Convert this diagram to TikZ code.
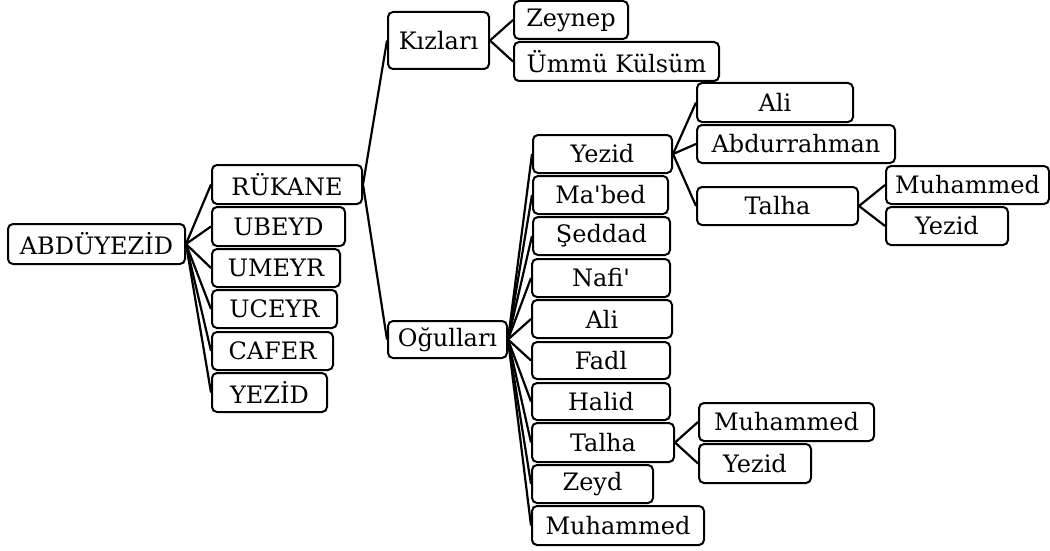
\documentclass[tikz,border=0pt]{standalone}
\usepackage{fontspec}
\newfontfamily\kutufont{DejaVu Serif}
\usepackage{tikz}

\tikzset{
  kutu/.style={draw, line width=2pt, rounded corners=5pt, inner sep=0pt,
    align=center, font=\kutufont\fontsize{24}{28}\selectfont},
  bag/.style={line width=2.2pt}
}

\begin{document}
\begin{tikzpicture}[x=1pt,y=-1pt]
    \useasboundingbox (0,0) rectangle (1050,551);

    % Root and first generation
    \node[kutu, minimum width=177pt, minimum height=40pt] (abd) at (96.5,244) {ABDÜYEZİD};
    \node[kutu, minimum width=150pt, minimum height=39pt] (rukane) at (287,184.5) {RÜKANE};
    \node[kutu, minimum width=133pt, minimum height=39pt] (ubeyd) at (278.5,226.5) {UBEYD};
    \node[kutu, minimum width=128pt, minimum height=38pt] (umeyr) at (276,268) {UMEYR};
    \node[kutu, minimum width=125pt, minimum height=38pt] (uceyr) at (274.5,309) {UCEYR};
    \node[kutu, minimum width=121pt, minimum height=38pt] (cafer) at (272.5,351) {CAFER};
    \node[kutu, minimum width=115pt, minimum height=39pt] (yezidA) at (269.5,392.5) {YEZİD};

    \draw[bag] (abd.east) -- (rukane.west);
    \draw[bag] (abd.east) -- (ubeyd.west);
    \draw[bag] (abd.east) -- (umeyr.west);
    \draw[bag] (abd.east) -- (uceyr.west);
    \draw[bag] (abd.east) -- (cafer.west);
    \draw[bag] (abd.east) -- (yezidA.west);

    % Children of Rukane
    \node[kutu, minimum width=101pt, minimum height=57pt] (kizlari) at (438.5,40.5) {Kızları};
    \node[kutu, minimum width=119pt, minimum height=37pt] (ogullari) at (447.5,339.5) {Oğulları};

    \draw[bag] (rukane.east) -- (kizlari.west);
    \draw[bag] (rukane.east) -- (ogullari.west);

    % Daughters
    \node[kutu, minimum width=114pt, minimum height=38pt] (zeynep) at (571,20) {Zeynep};
    \node[kutu, minimum width=205pt, minimum height=39pt] (ummu) at (616.5,61.5) {Ümmü Külsüm};

    \draw[bag] (kizlari.east) -- (zeynep.west);
    \draw[bag] (kizlari.east) -- (ummu.west);

    % Sons
    \node[kutu, minimum width=139pt, minimum height=38pt] (yezidB) at (602.5,154) {Yezid};
    \node[kutu, minimum width=135pt, minimum height=38pt] (mabed) at (600.5,195) {Ma'bed};
    \node[kutu, minimum width=137pt, minimum height=38pt] (seddad) at (601.5,236) {Şeddad};
    \node[kutu, minimum width=138pt, minimum height=38pt] (nafi) at (601,278) {Nafi'};
    \node[kutu, minimum width=140pt, minimum height=38pt] (ali) at (602,319) {Ali};
    \node[kutu, minimum width=138pt, minimum height=37pt] (fadl) at (601,360.5) {Fadl};
    \node[kutu, minimum width=138pt, minimum height=37pt] (halid) at (601,401.5) {Halid};
    \node[kutu, minimum width=142pt, minimum height=39pt] (talhaA) at (603,442.5) {Talha};
    \node[kutu, minimum width=121pt, minimum height=38pt] (zeyd) at (592.5,484) {Zeyd};
    \node[kutu, minimum width=172pt, minimum height=39pt] (muhA) at (618,525.5) {Muhammed};

    \draw[bag] (ogullari.east) -- (yezidB.west);
    \draw[bag] (ogullari.east) -- (mabed.west);
    \draw[bag] (ogullari.east) -- (seddad.west);
    \draw[bag] (ogullari.east) -- (nafi.west);
    \draw[bag] (ogullari.east) -- (ali.west);
    \draw[bag] (ogullari.east) -- (fadl.west);
    \draw[bag] (ogullari.east) -- (halid.west);
    \draw[bag] (ogullari.east) -- (talhaA.west);
    \draw[bag] (ogullari.east) -- (zeyd.west);
    \draw[bag] (ogullari.east) -- (muhA.west);

    % Children of Yezid
    \node[kutu, minimum width=156pt, minimum height=39pt] (aliB) at (775,102.5) {Ali};
    \node[kutu, minimum width=198pt, minimum height=38pt] (abdur) at (796,144) {Abdurrahman};
    \node[kutu, minimum width=161pt, minimum height=38pt] (talhaB) at (777.5,206) {Talha};

    \draw[bag] (yezidB.east) -- (aliB.west);
    \draw[bag] (yezidB.east) -- (abdur.west);
    \draw[bag] (yezidB.east) -- (talhaB.west);

    % Children of Talha (under Yezid)
    \node[kutu, minimum width=163pt, minimum height=38pt] (muhB) at (967.5,185) {Muhammed};
    \node[kutu, minimum width=122pt, minimum height=38pt] (yezidC) at (947,226) {Yezid};

    \draw[bag] (talhaB.east) -- (muhB.west);
    \draw[bag] (talhaB.east) -- (yezidC.west);

    % Children of Talha
    \node[kutu, minimum width=175pt, minimum height=38pt] (muhC) at (786.5,422) {Muhammed};
    \node[kutu, minimum width=112pt, minimum height=39pt] (yezidD) at (755,463.5) {Yezid};

    \draw[bag] (talhaA.east) -- (muhC.west);
    \draw[bag] (talhaA.east) -- (yezidD.west);
\end{tikzpicture}
\end{document}
